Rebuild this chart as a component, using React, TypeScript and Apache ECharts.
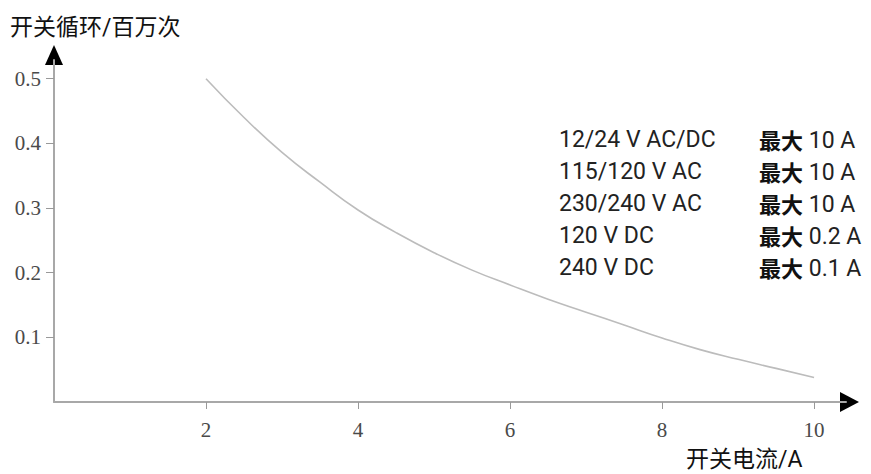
import React, { useEffect, useRef } from "react";
import * as echarts from "echarts";

const currentA = [2, 2.5, 3, 3.5, 4, 4.5, 5, 5.5, 6, 6.5, 7, 7.5, 8, 8.5, 9, 9.5, 10];
const cyclesMillion = [0.5, 0.44, 0.386, 0.34, 0.297, 0.262, 0.231, 0.204, 0.181, 0.159, 0.139, 0.119, 0.099, 0.081, 0.066, 0.052, 0.038];
const xTicks = [2, 4, 6, 8, 10];
const yTicks = [0.1, 0.2, 0.3, 0.4, 0.5];
const voltageRows = ["12/24 V AC/DC", "115/120 V AC", "230/240 V AC", "120 V DC", "240 V DC"];
const maxCurrentRows = ["10 A", "10 A", "10 A", "0.2 A", "0.1 A"];
const yAxisTitle = "开关循环/百万次";
const xAxisTitle = "开关电流/A";
const maxLabel = "最大";

const X_MAX = 10.42;
const Y_MAX = 0.529;

export default function App() {
  const ref = useRef<HTMLDivElement>(null);
  useEffect(() => {
    if (!ref.current) return;
    const chart = echarts.init(ref.current, undefined, { renderer: "svg" });
    const sans = "Roboto, 'Noto Sans CJK SC', sans-serif";
    const serif = "'Liberation Serif', 'DejaVu Serif', serif";
    chart.setOption({
      animation: false,
      backgroundColor: "#ffffff",
      grid: { left: 54, right: 25, top: 60, bottom: 72, containLabel: false },
      xAxis: {
        type: "value",
        min: 0,
        max: X_MAX,
        splitLine: { show: false },
        axisLine: { show: true, onZero: false, lineStyle: { color: "#a8a8a8", width: 2 } },
        axisTick: { show: true, customValues: xTicks, length: 7, lineStyle: { color: "#999", width: 1 } },
        axisLabel: {
          customValues: xTicks,
          margin: 17,
          color: "#4a4a4a",
          fontFamily: serif,
          fontSize: 21,
        },
      },
      yAxis: {
        type: "value",
        min: 0,
        max: Y_MAX,
        splitLine: { show: false },
        axisLine: { show: true, onZero: false, lineStyle: { color: "#a8a8a8", width: 2 } },
        axisTick: { show: true, customValues: yTicks, length: 8, lineStyle: { color: "#999", width: 1 } },
        axisLabel: {
          customValues: yTicks,
          margin: 13,
          color: "#4a4a4a",
          fontFamily: serif,
          fontSize: 21,
        },
      },
      series: [
        {
          type: "line",
          data: currentA.map((x, i) => [x, cyclesMillion[i]]),
          smooth: true,
          showSymbol: false,
          lineStyle: { color: "#bcbcbc", width: 1.6 },
        },
      ],
    });

    const xEnd = chart.convertToPixel({ gridIndex: 0 }, [X_MAX, 0]) as number[];
    const yEnd = chart.convertToPixel({ gridIndex: 0 }, [0, Y_MAX]) as number[];

    const rowTop = 128;
    const rowGap = 32;
    const legendTexts: any[] = [];
    voltageRows.forEach((v, i) => {
      legendTexts.push({
        type: "text",
        left: 559,
        top: rowTop + i * rowGap,
        style: { text: v, fontFamily: sans, fontSize: 23, fill: "#222" },
      });
      legendTexts.push({
        type: "text",
        left: 759,
        top: rowTop + i * rowGap,
        style: {
          text: `{b|${maxLabel}}{n| ${maxCurrentRows[i]}}`,
          fontFamily: sans,
          fontSize: 23,
          fill: "#222",
          rich: {
            b: { fontFamily: "'Noto Sans CJK SC', sans-serif", fontWeight: "bold", fontSize: 22, fill: "#111", lineHeight: 28, padding: [0, 0, 3, 0] },
            n: { fontFamily: sans, fontSize: 23, fill: "#222", lineHeight: 28 },
          },
        },
      });
    });

    chart.setOption({
      graphic: [
        {
          type: "polygon",
          shape: { points: [[xEnd[0] - 6, xEnd[1] - 10], [xEnd[0] + 13, xEnd[1]], [xEnd[0] - 6, xEnd[1] + 10]] },
          style: { fill: "#000" },
        },
        {
          type: "polygon",
          shape: { points: [[yEnd[0] - 9, yEnd[1] + 5], [yEnd[0], yEnd[1] - 15], [yEnd[0] + 9, yEnd[1] + 5]] },
          style: { fill: "#000" },
        },
        {
          type: "text",
          left: 10,
          top: 16,
          style: { text: yAxisTitle, fontFamily: sans, fontSize: 23, fill: "#111" },
        },
        {
          type: "text",
          left: 686,
          top: 448,
          style: { text: xAxisTitle, fontFamily: sans, fontSize: 23, fill: "#111" },
        },
        ...legendTexts,
      ],
    });

    return () => chart.dispose();
  }, []);
  return (
    <div
      ref={ref}
      style={{ position: "fixed", left: 0, top: 0, width: 871, height: 474 }}
    />
  );
}
